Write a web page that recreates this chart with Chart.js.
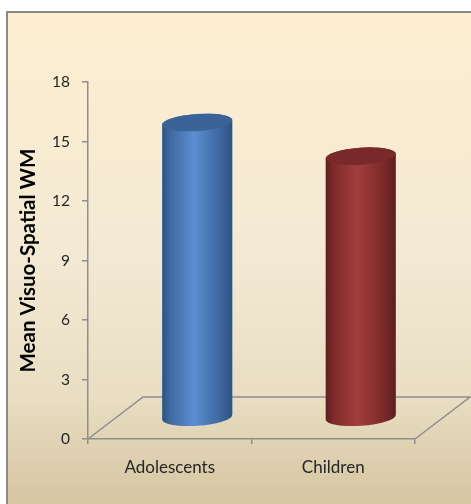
<!DOCTYPE html>
<html>
<head>
<meta charset="utf-8">
<script src="https://cdn.jsdelivr.net/npm/chart.js@4.4.1/dist/chart.umd.min.js"></script>
<style>
  html, body { margin: 0; padding: 0; background: #ffffff; overflow: hidden; }
  #wrap { width: 471px; height: 504px; position: relative; }
</style>
</head>
<body>
<div id="wrap"><canvas id="chart" width="471" height="504"></canvas></div>
<script>
// Mean visuo-spatial working memory score per age group
const categories = ['Adolescents', 'Children'];
const meanScores = [14.9, 13.2];
const yTicks = [0, 3, 6, 9, 12, 15, 18];

// Cylinder shading: [edge dark, highlight, right shade, cap]
const cylinderShades = [
  ['#2c5283', '#5b8ed0', '#3f6aa3', '#3a6397'],
  ['#5e1e1f', '#a43c3c', '#7e2b2b', '#7a292a']
];

const FONT = 'Lato, "Open Sans", "DejaVu Sans", sans-serif';
const AXIS_GREY = '#8e8e8e';
// Oblique depth of the floor (right and up)
const DEPTH_X = 55;
const DEPTH_Y = -42;

// Framed parchment-style background
const backgroundPlugin = {
  id: 'backgroundFrame',
  beforeDraw(chart) {
    const { ctx, width, height } = chart;
    ctx.save();
    ctx.fillStyle = '#ffffff';
    ctx.fillRect(0, 0, width, height);
    const g = ctx.createLinearGradient(0, 12, 0, height);
    g.addColorStop(0, '#fdeed1');
    g.addColorStop(0.5, '#f3e9d3');
    g.addColorStop(0.78, '#e9dec3');
    g.addColorStop(1, '#d5c5a1');
    ctx.fillStyle = g;
    ctx.fillRect(7, 12, width, height);
    ctx.strokeStyle = '#8a8a8a';
    ctx.lineWidth = 2;
    ctx.beginPath();
    ctx.moveTo(7, height + 5);
    ctx.lineTo(7, 12);
    ctx.lineTo(width + 5, 12);
    ctx.stroke();
    ctx.restore();
  }
};

// Floor outline behind the columns, extending back from the category axis
const floorPlugin = {
  id: 'floor',
  beforeDatasetsDraw(chart) {
    const { ctx, chartArea } = chart;
    const y0 = chart.scales.y.getPixelForValue(0);
    const l = chartArea.left, r = chartArea.right;
    ctx.save();
    ctx.strokeStyle = AXIS_GREY;
    ctx.lineWidth = 1.5;
    ctx.beginPath();
    ctx.moveTo(l, y0);
    ctx.lineTo(l + DEPTH_X, y0 + DEPTH_Y);
    ctx.lineTo(r + DEPTH_X, y0 + DEPTH_Y);
    ctx.lineTo(r, y0);
    ctx.stroke();
    ctx.restore();
  }
};

// Each bar is drawn as a shaded cylinder standing mid-way into the floor
const cylinderPlugin = {
  id: 'cylinders',
  afterDatasetsDraw(chart) {
    const { ctx } = chart;
    const meta = chart.getDatasetMeta(0);
    const ry = 8.5;
    const rot = -0.07;
    ctx.save();
    meta.data.forEach((bar, i) => {
      const shade = cylinderShades[i % cylinderShades.length];
      const cx = bar.x + DEPTH_X / 2;
      const topY = bar.y + DEPTH_Y / 2;
      const baseY = bar.base + DEPTH_Y / 2;
      const rx = bar.width / 2;

      const side = ctx.createLinearGradient(cx - rx, 0, cx + rx, 0);
      side.addColorStop(0, shade[0]);
      side.addColorStop(0.12, shade[2]);
      side.addColorStop(0.45, shade[1]);
      side.addColorStop(0.8, shade[2]);
      side.addColorStop(1, shade[0]);

      ctx.beginPath();
      ctx.ellipse(cx, baseY, rx, ry, rot, 0, Math.PI, false);
      ctx.ellipse(cx, topY, rx, ry, rot, Math.PI, 2 * Math.PI, false);
      ctx.closePath();
      ctx.fillStyle = side;
      ctx.fill();

      ctx.beginPath();
      ctx.ellipse(cx, topY, rx, ry, rot, 0, 2 * Math.PI);
      ctx.fillStyle = shade[3];
      ctx.fill();
    });
    ctx.restore();
  }
};

new Chart(document.getElementById('chart'), {
  type: 'bar',
  data: {
    labels: categories,
    datasets: [{
      data: meanScores,
      backgroundColor: 'rgba(0,0,0,0)',
      borderWidth: 0,
      barPercentage: 0.43,
      categoryPercentage: 1
    }]
  },
  options: {
    responsive: false,
    animation: false,
    events: [],
    layout: { padding: { top: 82, right: 56, left: 0, bottom: 0 } },
    plugins: {
      legend: { display: false },
      tooltip: { enabled: false }
    },
    scales: {
      x: {
        offset: true,
        grid: { drawOnChartArea: false, offset: true, tickLength: 5, color: AXIS_GREY, lineWidth: 1.5 },
        border: { color: AXIS_GREY, width: 1.5 },
        ticks: { color: '#262626', font: { family: FONT, size: 17 }, padding: 13 },
        afterFit(scale) { scale.height = 65; }
      },
      y: {
        min: 0,
        max: 18,
        afterBuildTicks(scale) { scale.ticks = yTicks.map(v => ({ value: v })); },
        grid: { drawOnChartArea: false, tickLength: 6, color: AXIS_GREY, lineWidth: 1.5 },
        border: { color: AXIS_GREY, width: 1.5 },
        ticks: { color: '#262626', font: { family: FONT, size: 15.5 }, padding: 12 },
        title: {
          display: true,
          text: 'Mean Visuo-Spatial WM',
          color: '#000000',
          font: { family: FONT, size: 20.5, weight: 'bold' },
          padding: { top: 16.5, bottom: 0 }
        },
        afterFit(scale) { scale.width = 88; }
      }
    }
  },
  plugins: [backgroundPlugin, floorPlugin, cylinderPlugin]
});
</script>
</body>
</html>
